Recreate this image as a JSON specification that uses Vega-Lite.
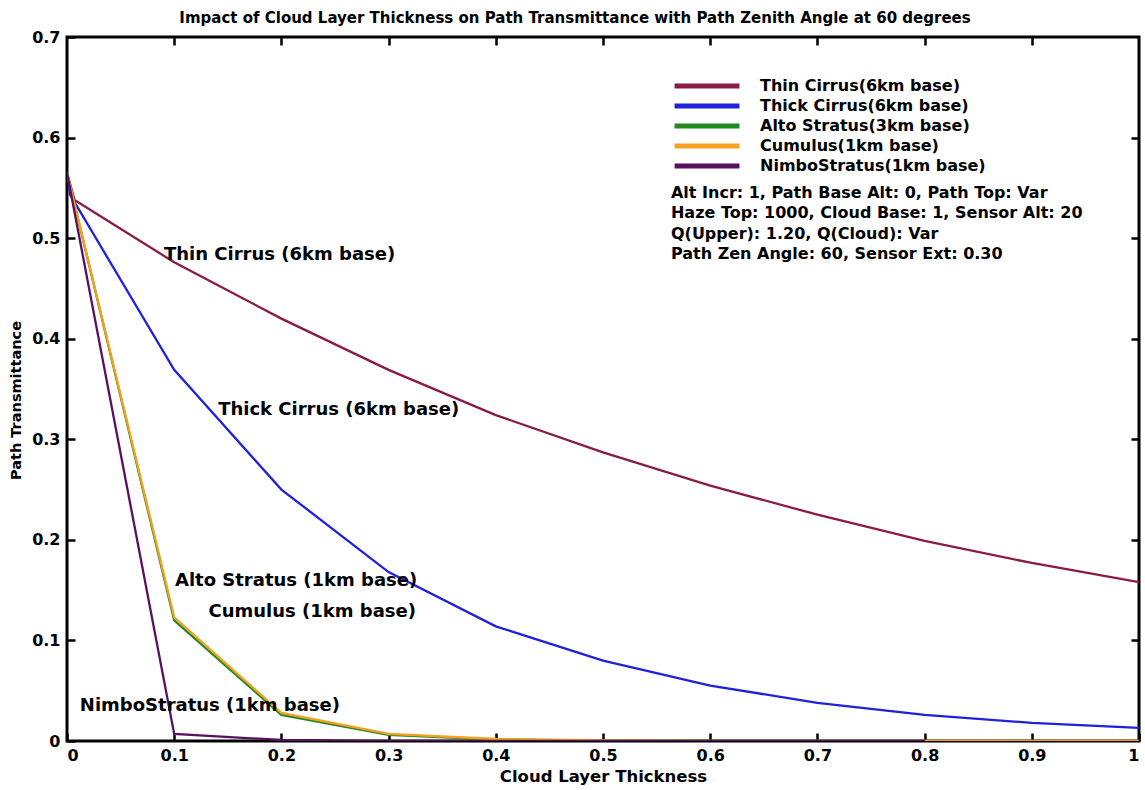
{
  "$schema": "https://vega.github.io/schema/vega-lite/v6.json",
  "width": 1072,
  "height": 704,
  "autosize": {"type": "none"},
  "padding": {"left": 67, "top": 37, "right": 6, "bottom": 49},
  "background": "white",
  "config": {
    "font": "DejaVu Sans",
    "view": {"stroke": "black", "strokeWidth": 3},
    "axis": {
      "grid": false,
      "domain": false,
      "tickColor": "black",
      "tickWidth": 2.5,
      "tickSize": -8,
      "labelFont": "DejaVu Sans",
      "labelFontSize": 16,
      "labelFontWeight": "bold",
      "labelColor": "black",
      "titleFont": "DejaVu Sans",
      "titleFontSize": 16,
      "titleFontWeight": "bold",
      "titleColor": "black"
    }
  },
  "title": {
    "text": "Impact of Cloud Layer Thickness on Path Transmittance with Path Zenith Angle at 60 degrees",
    "font": "DejaVu Sans",
    "fontSize": 15,
    "fontWeight": "bold",
    "color": "black",
    "anchor": "middle",
    "dx": -28,
    "offset": 3
  },
  "datasets": {
    "curves": [
      {"series": "Thin Cirrus(6km base)", "x": 0, "y": 0.565},
      {"series": "Thin Cirrus(6km base)", "x": 0.007, "y": 0.538},
      {"series": "Thin Cirrus(6km base)", "x": 0.1, "y": 0.476},
      {"series": "Thin Cirrus(6km base)", "x": 0.2, "y": 0.420},
      {"series": "Thin Cirrus(6km base)", "x": 0.3, "y": 0.369},
      {"series": "Thin Cirrus(6km base)", "x": 0.4, "y": 0.324},
      {"series": "Thin Cirrus(6km base)", "x": 0.5, "y": 0.287},
      {"series": "Thin Cirrus(6km base)", "x": 0.6, "y": 0.254},
      {"series": "Thin Cirrus(6km base)", "x": 0.7, "y": 0.225},
      {"series": "Thin Cirrus(6km base)", "x": 0.8, "y": 0.199},
      {"series": "Thin Cirrus(6km base)", "x": 0.9, "y": 0.177},
      {"series": "Thin Cirrus(6km base)", "x": 1.0, "y": 0.158},
      {"series": "Thick Cirrus(6km base)", "x": 0, "y": 0.565},
      {"series": "Thick Cirrus(6km base)", "x": 0.003, "y": 0.543},
      {"series": "Thick Cirrus(6km base)", "x": 0.1, "y": 0.369},
      {"series": "Thick Cirrus(6km base)", "x": 0.2, "y": 0.250},
      {"series": "Thick Cirrus(6km base)", "x": 0.3, "y": 0.168},
      {"series": "Thick Cirrus(6km base)", "x": 0.4, "y": 0.114},
      {"series": "Thick Cirrus(6km base)", "x": 0.5, "y": 0.080},
      {"series": "Thick Cirrus(6km base)", "x": 0.6, "y": 0.055},
      {"series": "Thick Cirrus(6km base)", "x": 0.7, "y": 0.038},
      {"series": "Thick Cirrus(6km base)", "x": 0.8, "y": 0.026},
      {"series": "Thick Cirrus(6km base)", "x": 0.9, "y": 0.018},
      {"series": "Thick Cirrus(6km base)", "x": 1.0, "y": 0.013},
      {"series": "Alto Stratus(3km base)", "x": 0, "y": 0.565},
      {"series": "Alto Stratus(3km base)", "x": 0.1, "y": 0.120},
      {"series": "Alto Stratus(3km base)", "x": 0.2, "y": 0.026},
      {"series": "Alto Stratus(3km base)", "x": 0.3, "y": 0.006},
      {"series": "Alto Stratus(3km base)", "x": 0.4, "y": 0.0015},
      {"series": "Alto Stratus(3km base)", "x": 0.5, "y": 0.0004},
      {"series": "Alto Stratus(3km base)", "x": 0.6, "y": 0},
      {"series": "Alto Stratus(3km base)", "x": 1.0, "y": 0},
      {"series": "Cumulus(1km base)", "x": 0, "y": 0.565},
      {"series": "Cumulus(1km base)", "x": 0.1, "y": 0.123},
      {"series": "Cumulus(1km base)", "x": 0.2, "y": 0.028},
      {"series": "Cumulus(1km base)", "x": 0.3, "y": 0.007},
      {"series": "Cumulus(1km base)", "x": 0.4, "y": 0.002},
      {"series": "Cumulus(1km base)", "x": 0.5, "y": 0.0006},
      {"series": "Cumulus(1km base)", "x": 0.6, "y": 0},
      {"series": "Cumulus(1km base)", "x": 1.0, "y": 0},
      {"series": "NimboStratus(1km base)", "x": 0, "y": 0.565},
      {"series": "NimboStratus(1km base)", "x": 0.1, "y": 0.007},
      {"series": "NimboStratus(1km base)", "x": 0.2, "y": 0.001},
      {"series": "NimboStratus(1km base)", "x": 0.3, "y": 0},
      {"series": "NimboStratus(1km base)", "x": 0.8, "y": 0}
    ],
    "labels": [
      {"text": "Thin Cirrus (6km base)", "x": 0.0905, "y": 0.483, "kind": "curve"},
      {"text": "Thick Cirrus (6km base)", "x": 0.141, "y": 0.329, "kind": "curve"},
      {"text": "Alto Stratus (1km base)", "x": 0.1007, "y": 0.159, "kind": "curve"},
      {"text": "Cumulus (1km base)", "x": 0.132, "y": 0.128, "kind": "curve"},
      {"text": "NimboStratus (1km base)", "x": 0.012, "y": 0.035, "kind": "curve"},
      {"text": "Alt Incr: 1, Path Base Alt: 0, Path Top: Var", "x": 0.5634, "y": 0.5449, "kind": "info"},
      {"text": "Haze Top: 1000, Cloud Base: 1, Sensor Alt: 20", "x": 0.5634, "y": 0.5250, "kind": "info"},
      {"text": "Q(Upper): 1.20, Q(Cloud): Var", "x": 0.5634, "y": 0.5041, "kind": "info"},
      {"text": "Path Zen Angle: 60, Sensor Ext: 0.30", "x": 0.5634, "y": 0.4842, "kind": "info"}
    ]
  },
  "resolve": {"axis": {"x": "independent", "y": "independent"}},
  "layer": [
    {
      "data": {"name": "curves"},
      "mark": {"type": "line", "strokeWidth": 2.3, "clip": true},
      "encoding": {
        "x": {
          "field": "x", "type": "quantitative",
          "scale": {"domain": [0, 1], "nice": false},
          "axis": {"orient": "bottom", "values": [0, 0.1, 0.2, 0.3, 0.4, 0.5, 0.6, 0.7, 0.8, 0.9, 1], "format": ".1~f", "labelPadding": 14, "title": "Cloud Layer Thickness", "titleFontSize": 16.5, "titlePadding": 5}
        },
        "y": {
          "field": "y", "type": "quantitative",
          "scale": {"domain": [0, 0.7], "nice": false, "zero": true},
          "axis": {"orient": "left", "values": [0, 0.1, 0.2, 0.3, 0.4, 0.5, 0.6, 0.7], "format": ".1~f", "labelPadding": 15, "title": "Path Transmittance", "titleFontSize": 14.5, "titlePadding": 8, "titleY": 363}
        },
        "color": {
          "field": "series", "type": "nominal",
          "scale": {
            "domain": ["Thin Cirrus(6km base)", "Thick Cirrus(6km base)", "Alto Stratus(3km base)", "Cumulus(1km base)", "NimboStratus(1km base)"],
            "range": ["#8a1a48", "#2020dd", "#228822", "#f5a020", "#5a1060"]
          },
          "legend": {
            "orient": "none",
            "legendX": 632,
            "legendY": 41,
            "title": null,
            "symbolType": "M-6,0H6",
            "symbolSize": 117,
            "symbolStrokeWidth": 5,
            "labelFont": "DejaVu Sans",
            "labelFontSize": 16,
            "labelFontWeight": "bold",
            "labelColor": "black",
            "labelOffset": 45,
            "rowPadding": 0,
            "labelLimit": 400
          }
        },
        "order": {"field": "x", "type": "quantitative"}
      }
    },
    {
      "data": {"name": "labels"},
      "mark": {"type": "text", "align": "left", "baseline": "middle", "font": "DejaVu Sans", "fontWeight": "bold", "color": "black"},
      "encoding": {
        "x": {"field": "x", "type": "quantitative", "axis": null},
        "y": {"field": "y", "type": "quantitative", "axis": null},
        "text": {"field": "text"},
        "size": {"field": "kind", "type": "nominal", "scale": {"domain": ["curve", "info"], "range": [18, 16]}, "legend": null}
      }
    },
    {
      "data": {"name": "curves"},
      "mark": {"type": "point", "opacity": 0},
      "encoding": {
        "x": {"field": "x", "type": "quantitative", "axis": {"orient": "top", "values": [0.1, 0.2, 0.3, 0.4, 0.5, 0.6, 0.7, 0.8, 0.9], "labels": false, "title": null}},
        "y": {"field": "y", "type": "quantitative", "axis": {"orient": "right", "values": [0.1, 0.2, 0.3, 0.4, 0.5, 0.6], "labels": false, "title": null}}
      }
    }
  ]
}
